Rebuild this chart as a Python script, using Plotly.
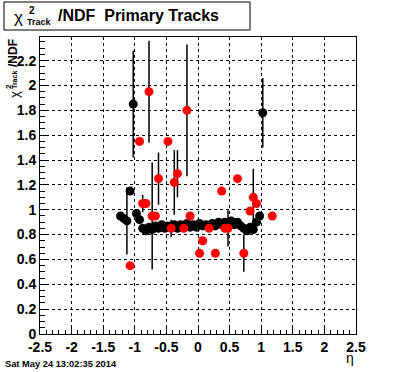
import plotly.graph_objects as go

# ---- data ----
black_eta = [-1.225, -1.175, -1.125, -1.075, -1.025, -0.975, -0.925, -0.875, -0.825, -0.775,
             -0.725, -0.675, -0.625, -0.575, -0.525, -0.475, -0.425, -0.375, -0.325, -0.275,
             -0.225, -0.175, -0.125, -0.075, -0.025, 0.025, 0.075, 0.125, 0.175, 0.225,
             0.275, 0.325, 0.375, 0.425, 0.475, 0.525, 0.575, 0.625, 0.675, 0.725,
             0.775, 0.825, 0.875, 0.925, 0.975, 1.025]
black_chi2 = [0.95, 0.93, 0.91, 1.15, 1.85, 0.97, 0.92, 0.85, 0.83, 0.86,
              0.84, 0.87, 0.85, 0.88, 0.85, 0.87, 0.86, 0.88, 0.85, 0.88,
              0.86, 0.89, 0.86, 0.88, 0.86, 0.89, 0.87, 0.88, 0.86, 0.89,
              0.87, 0.90, 0.88, 0.90, 0.87, 0.91, 0.88, 0.90, 0.87, 0.85,
              0.83, 0.86, 0.84, 0.90, 0.95, 1.78]
black_err = [0, 0, 0.27, 0, 0.43, 0, 0, 0, 0, 0,
             0, 0, 0, 0, 0, 0, 0, 0, 0, 0,
             0, 0, 0, 0, 0, 0, 0, 0, 0, 0,
             0, 0, 0, 0, 0, 0, 0, 0, 0, 0,
             0, 0, 0, 0, 0, 0.28]

red_eta = [-1.075, -0.925, -0.875, -0.825, -0.775, -0.725, -0.675, -0.625, -0.475, -0.425,
           -0.375, -0.325, -0.225, -0.175, -0.125, 0.025, 0.075, 0.175, 0.275, 0.375,
           0.425, 0.475, 0.625, 0.725, 0.825, 0.875, 0.925, 1.175]
red_chi2 = [0.55, 1.55, 1.05, 1.05, 1.95, 0.95, 0.95, 1.25, 1.55, 0.85,
            1.22, 1.29, 0.85, 1.80, 0.95, 0.65, 0.75, 0.85, 0.65, 1.15,
            0.85, 0.85, 1.25, 0.65, 0.99, 1.10, 1.05, 0.95]
red_err = [0, 0, 0.07, 0, 0.41, 0.43, 0, 0.21, 0, 0.07,
           0.26, 0.19, 0, 0.53, 0, 0, 0, 0, 0, 0,
           0, 0.145, 0, 0.15, 0, 0.23, 0, 0]

x_ticks = [-2.5, -2, -1.5, -1, -0.5, 0, 0.5, 1, 1.5, 2, 2.5]
x_tick_labels = ["-2.5", "-2", "-1.5", "-1", "-0.5", "0", "0.5", "1", "1.5", "2", "2.5"]
y_ticks = [0, 0.2, 0.4, 0.6, 0.8, 1, 1.2, 1.4, 1.6, 1.8, 2, 2.2]
y_tick_labels = ["0", "0.2", "0.4", "0.6", "0.8", "1", "1.2", "1.4", "1.6", "1.8", "2", "2.2"]

W, H = 396, 372
L, R, T, B = 40, 40, 37, 38
PW, PH = W - L - R, H - T - B

def px(x):
    return (x - L) / PW

def py(y):
    return (H - B - y) / PH

FONT = "Liberation Sans"

fig = go.Figure()
fig.add_trace(go.Scatter(
    x=black_eta, y=black_chi2, mode="markers",
    marker=dict(color="black", size=9),
    error_y=dict(type="data", array=black_err, color="black", thickness=1.5, width=0),
    showlegend=False, hoverinfo="skip"))
fig.add_trace(go.Scatter(
    x=red_eta, y=red_chi2, mode="markers",
    marker=dict(color="#ff0000", size=9),
    error_y=dict(type="data", array=red_err, color="black", thickness=1.5, width=0),
    showlegend=False, hoverinfo="skip"))

axis_common = dict(
    showline=True, mirror=True, linecolor="black", linewidth=1,
    showgrid=True, gridcolor="black", griddash="dot", gridwidth=1,
    zeroline=False, ticks="inside", tickcolor="black", tickwidth=1,
    tickfont=dict(family=FONT, size=14, color="black", weight="bold"),
)
fig.update_xaxes(range=[-2.5, 2.5], tickvals=x_ticks, ticktext=x_tick_labels, ticklen=9,
                 minor=dict(dtick=0.1, tick0=-2.5, ticks="inside", ticklen=4.5, tickcolor="black",
                            showgrid=False),
                 **axis_common)
fig.update_yaxes(range=[0, 2.39], tickvals=y_ticks, ticktext=y_tick_labels, ticklen=9,
                 minor=dict(dtick=0.05, tick0=0, ticks="inside", ticklen=4.5, tickcolor="black",
                            showgrid=False),
                 **axis_common)

shapes = [dict(type="rect", xref="paper", yref="paper",
               x0=px(4), x1=px(250), y0=py(30), y1=py(2),
               line=dict(color="black", width=1), fillcolor="white", layer="above")]

ann = []
def add_text(text, x, y, size, xanchor="left", yanchor="middle", angle=0, bold=True):
    ann.append(dict(text=text, x=px(x), y=py(y), xref="paper", yref="paper",
                    xanchor=xanchor, yanchor=yanchor, showarrow=False, textangle=angle,
                    font=dict(family=FONT, size=size, color="black",
                              weight="bold" if bold else "normal")))

# title
add_text("χ", 12, 17, 17, bold=False)
add_text("2", 27, 11, 10)
add_text("Track", 25, 22, 9)
add_text("/NDF  Primary Tracks", 56, 16, 16)

# y axis title (rotated)
add_text("χ", 14, 95, 13, xanchor="center", angle=-90, bold=False)
add_text("2", 8, 87, 8, xanchor="center", angle=-90)
add_text("Track", 14, 80, 7, xanchor="center", angle=-90)
add_text("/NDF", 13, 53, 12, xanchor="center", angle=-90)

# x axis title
add_text("η", 350, 358, 14, xanchor="center", bold=False)

# date stamp
add_text("Sat May 24 13:02:35 2014", 3, 364, 9.3)

fig.update_layout(
    width=W, height=H,
    margin=dict(l=L, r=R, t=T, b=B, pad=0),
    paper_bgcolor="white", plot_bgcolor="white",
    shapes=shapes, annotations=ann,
    font=dict(family=FONT),
    hovermode=False,
)

fig.write_html("out.html", config={"displayModeBar": False},
               post_script="document.body.style.margin='0';document.body.style.padding='0';")
